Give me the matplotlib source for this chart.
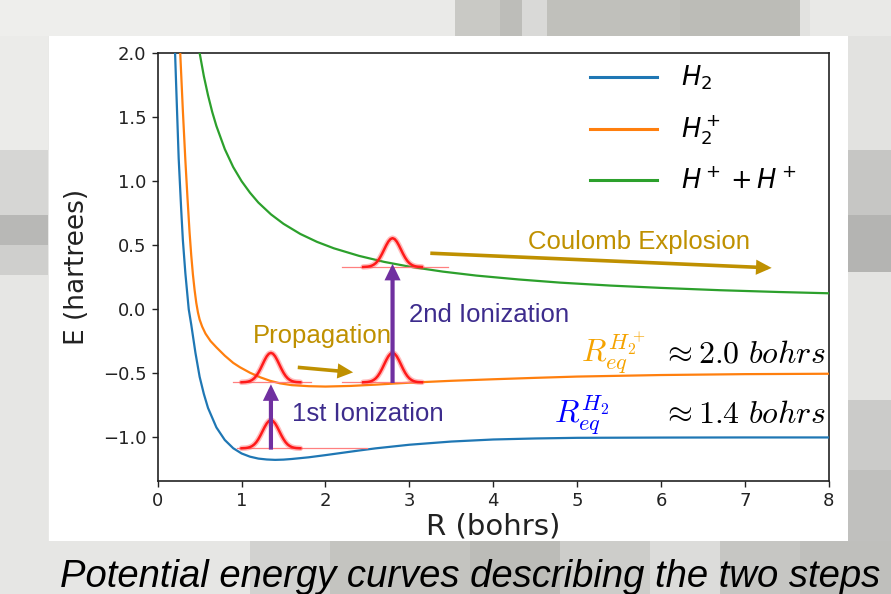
import matplotlib
matplotlib.use("Agg")
import matplotlib.pyplot as plt
from matplotlib.patches import Rectangle, FancyArrowPatch

# ---------------- data ----------------
R_h2 = [0.19, 0.20, 0.22, 0.25, 0.28, 0.30, 0.33, 0.37, 0.40, 0.45, 0.50, 0.55, 0.60, 0.70,
        0.80, 0.90, 1.00, 1.10, 1.20, 1.30, 1.40, 1.50, 1.60, 1.80, 2.00, 2.20, 2.40, 2.60,
        2.80, 3.00, 3.50, 4.00, 4.50, 5.00, 6.00, 7.00, 8.00]
E_h2 = [2.40, 2.14, 1.75, 1.18, 0.78, 0.54, 0.28, 0.00, -0.12, -0.34, -0.527, -0.66, -0.77, -0.922,
        -1.020, -1.084, -1.125, -1.150, -1.165, -1.172, -1.175, -1.173, -1.168, -1.155, -1.138, -1.120, -1.102, -1.085,
        -1.071, -1.057, -1.032, -1.016, -1.008, -1.003, -1.001, -1.000, -1.000]

R_h2p = [0.25, 0.27, 0.30, 0.33, 0.355, 0.38, 0.40, 0.42, 0.44, 0.46, 0.48, 0.50, 0.53, 0.57,
         0.63, 0.70, 0.80, 0.90, 0.98, 1.10, 1.22, 1.34, 1.46, 1.60, 1.80, 2.00, 2.30, 2.60,
         2.80, 3.00, 3.50, 4.00, 4.50, 5.00, 6.00, 7.00, 8.00]
E_h2p = [2.30, 1.98, 1.55, 1.16, 0.87, 0.60, 0.42, 0.27, 0.15, 0.05, -0.025, -0.08, -0.135, -0.19,
         -0.248, -0.297, -0.362, -0.418, -0.452, -0.495, -0.530, -0.558, -0.578, -0.592, -0.600, -0.603, -0.598, -0.588,
         -0.580, -0.573, -0.558, -0.546, -0.535, -0.525, -0.513, -0.506, -0.503]

R_hh = [0.48, 0.50, 0.55, 0.60, 0.65, 0.70, 0.80, 0.90, 1.00, 1.10, 1.20, 1.35, 1.50, 1.70,
        1.90, 2.10, 2.40, 2.70, 3.00, 3.40, 3.80, 4.30, 4.80, 5.40, 6.00, 6.70, 7.40, 8.00]
E_hh = [2.08, 2.00, 1.82, 1.67, 1.54, 1.43, 1.25, 1.11, 1.00, 0.91, 0.833, 0.741, 0.667, 0.588,
        0.526, 0.476, 0.417, 0.370, 0.333, 0.294, 0.263, 0.233, 0.208, 0.185, 0.167, 0.149, 0.135, 0.125]

series_labels = [r"$H_2$", r"$H_2^+$", r"$H^+ + H^+$"]
series_colors = ["#1f77b4", "#ff7f0e", "#2ca02c"]

x_ticks = [0, 1, 2, 3, 4, 5, 6, 7, 8]
y_ticks = [-1.0, -0.5, 0.0, 0.5, 1.0, 1.5, 2.0]

# wave packets: centre R, baseline E, peak height, tail extent left / right
wp_center = [1.35, 1.35, 2.80, 2.80]
wp_base = [-1.085, -0.570, -0.570, 0.330]
wp_height = [0.220, 0.230, 0.230, 0.225]
wp_left = [0.94, 0.90, 2.20, 2.20]
wp_right = [2.49, 1.83, 3.13, 3.46]
# wave-packet profile (offset in R, fraction of peak height)
prof_dx = [-0.35, -0.30, -0.275, -0.25, -0.225, -0.20, -0.175, -0.15, -0.125, -0.10, -0.075, -0.05, -0.025, 0.0,
           0.025, 0.05, 0.075, 0.10, 0.125, 0.15, 0.175, 0.20, 0.225, 0.25, 0.275, 0.30, 0.35]
prof_fr = [0.002, 0.011, 0.023, 0.044, 0.080, 0.135, 0.216, 0.325, 0.458, 0.607, 0.755, 0.883, 0.969, 1.0,
           0.969, 0.883, 0.755, 0.607, 0.458, 0.325, 0.216, 0.135, 0.080, 0.044, 0.023, 0.011, 0.002]

ann_family = "Liberation Sans"

# ---------------- figure ----------------
W, H = 891, 594
fig = plt.figure(figsize=(W / 100, H / 100), dpi=100)

bg = fig.add_axes([0, 0, 1, 1])
bg.set_xlim(0, W)
bg.set_ylim(H, 0)
bg.axis("off")
bg.add_patch(Rectangle((0, 0), W, H, color="#e9e9e7", zorder=0))
blocks = [
    # top strip
    (0, 0, 230, 36, "#eeeeec"), (230, 0, 455, 36, "#eaeae8"), (455, 0, 500, 36, "#c9c9c5"),
    (500, 0, 522, 36, "#bdbdb9"), (522, 0, 547, 36, "#d9d9d7"), (547, 0, 680, 36, "#c0c0bb"),
    (680, 0, 800, 36, "#bcbcb7"), (800, 0, 810, 36, "#e2e2e0"), (810, 0, 891, 36, "#e9e9e7"),
    # left strip
    (0, 36, 48, 150, "#ebebe9"), (0, 150, 48, 215, "#d6d6d4"), (0, 215, 48, 245, "#b8b8b6"),
    (0, 245, 48, 275, "#cfcfcd"), (0, 275, 48, 541, "#e6e6e4"),
    # right strip
    (848, 36, 891, 150, "#e2e2e0"), (848, 150, 891, 215, "#c6c6c4"), (848, 215, 891, 272, "#b4b4b2"),
    (848, 272, 891, 400, "#e4e4e2"), (848, 400, 891, 470, "#cbcbc9"), (848, 470, 891, 541, "#c0c0be"),
    # bottom strip
    (0, 541, 250, 594, "#e6e6e4"), (250, 541, 330, 594, "#d2d2d0"), (330, 541, 470, 594, "#c4c4c0"),
    (470, 541, 560, 594, "#bcbcb8"), (560, 541, 650, 594, "#cdcdca"), (650, 541, 720, 594, "#dcdcda"),
    (720, 541, 800, 594, "#c6c6c3"), (800, 541, 891, 594, "#bfbfbc"),
]
for x0, y0, x1, y1, c in blocks:
    bg.add_patch(Rectangle((x0, y0), x1 - x0, y1 - y0, color=c, zorder=1, lw=0))
bg.add_patch(Rectangle((49, 36), 799, 505, color="white", zorder=2, lw=0))

fig.text(60 / W, 1 - 587 / H, "Potential energy curves describing the two steps",
         fontsize=27.5, style="italic", family="Liberation Sans",
         color="black", va="baseline", ha="left", zorder=5)

ax = fig.add_axes([157.7 / W, 1 - 480.5 / H, 671 / W, 427.5 / H])
ax.set_facecolor("white")
ax.set_xlim(0, 8)
ax.set_ylim(-1.336, 2.0)

for R, E, lab, col in zip([R_h2, R_h2p, R_hh], [E_h2, E_h2p, E_hh], series_labels, series_colors):
    ax.plot(R, E, color=col, lw=1.6, label=lab, zorder=3, solid_joinstyle="round")

# wave packets
for c, b, h, l, r in zip(wp_center, wp_base, wp_height, wp_left, wp_right):
    ax.plot([l, r], [b, b], color="#ff8080", lw=0.9, zorder=4)
    xs = [c + d for d in prof_dx]
    ys = [b + h * f for f in prof_fr]
    ax.plot(xs, ys, color="#ff4040", lw=4.0, alpha=0.35, zorder=4, solid_capstyle="round")
    ax.plot(xs, ys, color="#ff1a1a", lw=1.8, zorder=5)

purple = "#7030A0"
gold = "#BF9000"
ion_txt = "#3D2C8D"


def arrow(x0, y0, x1, y1, color, lw, hl, hw):
    a = FancyArrowPatch((x0, y0), (x1, y1),
                        arrowstyle="-|>,head_length=%g,head_width=%g" % (hl, hw),
                        mutation_scale=20, color=color, lw=lw, shrinkA=0, shrinkB=0,
                        zorder=6, joinstyle="miter", capstyle="butt")
    ax.add_patch(a)


arrow(1.35, -1.095, 1.35, -0.585, purple, 3.0, 0.35, 0.17)
arrow(2.80, -0.575, 2.80, 0.355, purple, 3.0, 0.35, 0.17)
arrow(1.67, -0.453, 2.33, -0.492, gold, 2.6, 0.35, 0.17)
arrow(3.25, 0.4375, 7.32, 0.323, gold, 2.6, 0.35, 0.17)

fs_ann = 18.5
ax.text(1.60, -0.815, "1st Ionization", color=ion_txt, fontsize=fs_ann, family=ann_family,
        va="center", ha="left", zorder=7)
ax.text(3.00, -0.045, "2nd Ionization", color=ion_txt, fontsize=fs_ann, family=ann_family,
        va="center", ha="left", zorder=7)
ax.text(1.14, -0.205, "Propagation", color=gold, fontsize=fs_ann, family=ann_family,
        va="center", ha="left", zorder=7)
ax.text(4.42, 0.525, "Coulomb Explosion", color=gold, fontsize=fs_ann, family=ann_family,
        va="center", ha="left", zorder=7)

fs_req = 23
ax.text(5.05, -0.414, r"$R_{eq}^{H_2^+}$", color="#F5A300", fontsize=fs_req,
        math_fontfamily="cm", va="baseline", ha="left", zorder=7)
ax.text(7.96, -0.414, r"$\approx 2.0\ bohrs$", color="black", fontsize=fs_req,
        math_fontfamily="cm", va="baseline", ha="right", zorder=7)
ax.text(4.72, -0.890, r"$R_{eq}^{H_2}$", color="#0000FF", fontsize=fs_req,
        math_fontfamily="cm", va="baseline", ha="left", zorder=7)
ax.text(7.96, -0.890, r"$\approx 1.4\ bohrs$", color="black", fontsize=fs_req,
        math_fontfamily="cm", va="baseline", ha="right", zorder=7)

ax.set_xticks(x_ticks)
ax.set_yticks(y_ticks)
ax.set_xticklabels([str(t) for t in x_ticks])
ax.set_yticklabels(["\u2212%.1f" % abs(t) if t < 0 else "%.1f" % t for t in y_ticks])
ax.tick_params(labelsize=13, colors="#222222", length=4.5, width=1.0)
for s in ax.spines.values():
    s.set_color("#222222")
    s.set_linewidth(1.2)

ax.set_xlabel("R (bohrs)", fontsize=21, color="#222222", labelpad=2)
ax.set_ylabel("E (hartrees)", fontsize=19, color="#222222", labelpad=9)

leg = ax.legend(loc="upper left", bbox_to_anchor=(0.644, 0.975), frameon=False,
                fontsize=18.5, handlelength=2.6, handletextpad=0.95, labelspacing=0.82,
                borderpad=0.0, borderaxespad=0.0)
for ln in leg.get_lines():
    ln.set_linewidth(2.2)

fig.savefig("out.png", dpi=100)
